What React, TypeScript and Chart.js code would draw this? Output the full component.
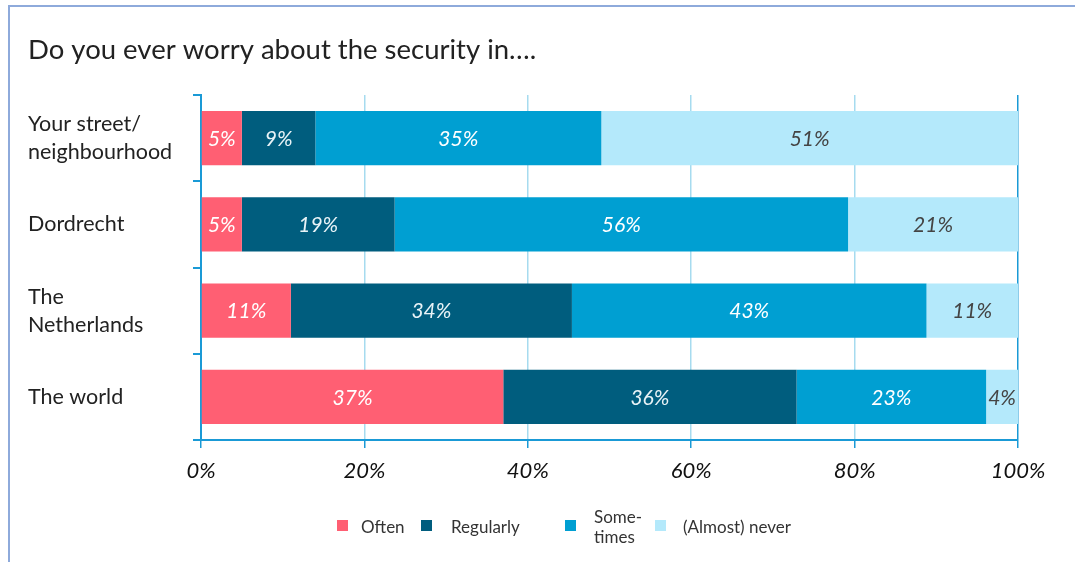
import React, { useEffect, useRef } from "react";
import { Chart, registerables } from "chart.js";

Chart.register(...registerables);

const title = "Do you ever worry about the security in….";
const categories: (string | string[])[] = [
  ["Your street/", "neighbourhood"],
  "Dordrecht",
  ["The", "Netherlands"],
  "The world",
];
const seriesNames = ["Often", "Regularly", "Some-\ntimes", "(Almost) never"];
const often = [5, 5, 11, 37];
const regularly = [9, 18.7, 34.4, 35.9];
const sometimes = [35, 55.5, 43.4, 23.2];
const never = [51, 20.8, 11.2, 3.9];
const xTickValues = [0, 20, 40, 60, 80, 100];

const colors = ["#ff5f73", "#005d7e", "#009fd2", "#b4e9fb"];
const labelColors = ["#ffffff", "#e8f3f7", "#ffffff", "#444444"];
const FONT = "Lato, 'Open Sans', sans-serif";

const framePlugin = {
  id: "frame",
  beforeDraw(chart: any) {
    const ctx = chart.ctx;
    ctx.save();
    ctx.fillStyle = "#ffffff";
    ctx.fillRect(0, 0, chart.width, chart.height);
    ctx.strokeStyle = "#8eaadb";
    ctx.lineWidth = 2;
    ctx.beginPath();
    ctx.moveTo(9, chart.height);
    ctx.lineTo(9, 6);
    ctx.lineTo(chart.width, 6);
    ctx.stroke();
    ctx.fillStyle = "#222222";
    ctx.font = `27.5px ${FONT}`;
    ctx.textBaseline = "middle";
    ctx.textAlign = "left";
    ctx.fillText(title, 28, 50);
    ctx.restore();
  },
};

const valueLabelPlugin = {
  id: "valueLabels",
  afterDatasetsDraw(chart: any) {
    const ctx = chart.ctx;
    ctx.save();
    ctx.font = `italic 21px ${FONT}`;
    ctx.textAlign = "center";
    ctx.textBaseline = "middle";
    chart.data.datasets.forEach((ds: any, di: number) => {
      const meta = chart.getDatasetMeta(di);
      meta.data.forEach((bar: any, i: number) => {
        const v = ds.data[i];
        const cx = (bar.base + bar.x) / 2;
        ctx.fillStyle = labelColors[di];
        ctx.fillText(Math.round(v) + "%", cx, bar.y + 1);
      });
    });
    ctx.restore();
  },
};

const legendXs = [337, 421, 565, 655];
const legendTextOffsets = [24, 30, 29, 28];
const legendPlugin = {
  id: "customLegend",
  afterDraw(chart: any) {
    const ctx = chart.ctx;
    ctx.save();
    ctx.font = `17px ${FONT}`;
    ctx.textBaseline = "middle";
    ctx.textAlign = "left";
    const yMid = 526;
    chart.data.datasets.forEach((ds: any, di: number) => {
      const x = legendXs[di];
      ctx.fillStyle = ds.backgroundColor;
      ctx.fillRect(x, yMid - 6, 11, 11);
      ctx.fillStyle = "#333333";
      const lines = String(ds.label).split("\n");
      const lh = 20;
      const startY = yMid - ((lines.length - 1) * lh) / 2 + 2;
      lines.forEach((ln, li) => {
        ctx.fillText(ln, x + legendTextOffsets[di], startY + li * lh);
      });
    });
    ctx.restore();
  },
};

export default function App() {
  const ref = useRef<HTMLCanvasElement | null>(null);
  useEffect(() => {
    if (!ref.current) return;
    const seriesData = [often, regularly, sometimes, never];
    const chart = new Chart(ref.current, {
      type: "bar",
      data: {
        labels: categories as any,
        datasets: seriesData.map((d, i) => ({
          label: seriesNames[i],
          data: d,
          backgroundColor: colors[i],
          borderWidth: 0,
          categoryPercentage: 1,
          barPercentage: 0.63,
        })),
      },
      options: {
        indexAxis: "y",
        animation: false,
        responsive: false,
        layout: { padding: { left: 28, top: 95, right: 57, bottom: 0 } },
        plugins: {
          legend: { display: false },
          title: { display: false },
          tooltip: { enabled: false },
        },
        scales: {
          x: {
            stacked: true,
            min: 0,
            max: 100,
            afterBuildTicks(scale: any) {
              scale.ticks = xTickValues.map((v) => ({ value: v }));
            },
            afterFit(scale: any) {
              scale.height = 122;
            },
            border: { display: true, color: "#1a9ad6", width: 2 },
            grid: {
              drawOnChartArea: true,
              tickLength: 8,
              tickColor: "#1a9ad6",
              color: (c: any) => (c.index === xTickValues.length - 1 ? "#1a9ad6" : "#a6dbef"),
              lineWidth: 1.5,
            },
            ticks: {
              padding: 10,
              color: "#111111",
              font: { family: FONT, size: 22, style: "italic" },
              callback: (v: any) => v + "%",
            },
          },
          y: {
            stacked: true,
            afterFit(scale: any) {
              scale.width = 173;
            },
            border: { display: true, color: "#1a9ad6", width: 2 },
            grid: {
              offset: true,
              drawOnChartArea: false,
              drawTicks: true,
              tickLength: 8,
              color: "#1a9ad6",
              lineWidth: 2,
            },
            ticks: {
              crossAlign: "far",
              color: "#222222",
              font: { family: FONT, size: 21.5, lineHeight: 1.3 },
            },
          },
        },
      },
      plugins: [framePlugin, valueLabelPlugin, legendPlugin],
    } as any);
    return () => chart.destroy();
  }, []);
  return (
    <div style={{ position: "fixed", left: 0, top: 0, width: 1075, height: 562, background: "#fff" }}>
      <canvas ref={ref} width={1075} height={562} style={{ display: "block" }} />
    </div>
  );
}
